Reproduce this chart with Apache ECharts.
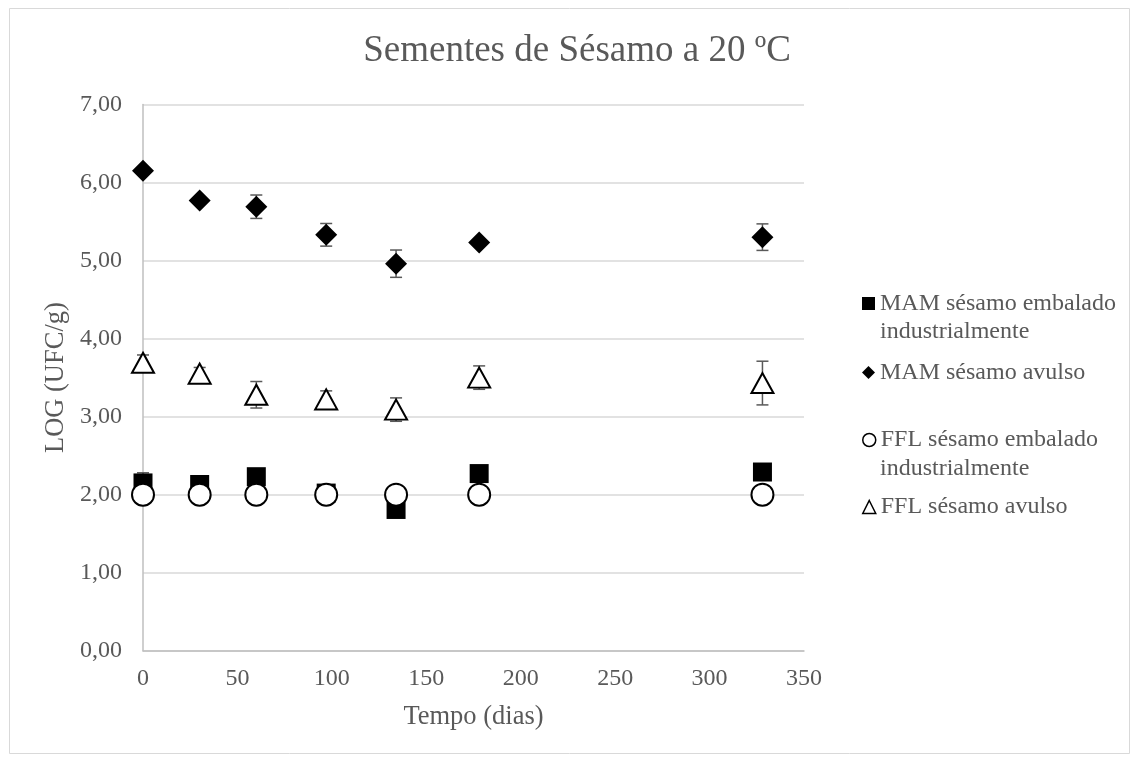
<!DOCTYPE html>
<html><head><meta charset="utf-8">
<script src="https://cdn.jsdelivr.net/npm/echarts@6/dist/echarts.min.js"></script>
<style>html,body{margin:0;padding:0;background:#fff}#c{width:1139px;height:760px}</style>
</head><body><div id="c"></div>
<script>
const days = [0, 30, 60, 97, 134, 178, 328];
const mamEmbalado = [2.15, 2.13, 2.23, 2.02, 1.81, 2.27, 2.29];
const mamEmbaladoErr = [0.13, 0, 0, 0, 0, 0, 0];
const mamAvulso = [6.15, 5.77, 5.69, 5.33, 4.96, 5.23, 5.30];
const mamAvulsoErr = [0, 0, 0.15, 0.145, 0.175, 0, 0.17];
const fflEmbalado = [2.00, 2.00, 2.00, 2.00, 2.00, 2.00, 2.00];
const fflEmbaladoErr = [0, 0, 0, 0, 0, 0, 0];
const fflAvulso = [3.69, 3.55, 3.28, 3.22, 3.09, 3.50, 3.43];
const fflAvulsoErr = [0.10, 0.08, 0.17, 0.11, 0.15, 0.15, 0.28];
const yTickLabels = ['0,00','1,00','2,00','3,00','4,00','5,00','6,00','7,00'];
const seriesNames = ['MAM sésamo embalado industrialmente', 'MAM sésamo avulso', 'FFL sésamo embalado industrialmente', 'FFL sésamo avulso'];

const FONT = '"Liberation Serif", "Times New Roman", serif';
const GRAY = '#595959';

function errSeries(vals, errs) {
  return {
    type: 'custom', silent: true, z: 1,
    data: days.map((d, i) => [d, vals[i] - errs[i], vals[i] + errs[i], errs[i]]).filter(r => r[3] > 0),
    encode: { x: 0, y: [1, 2] },
    renderItem: (params, api) => {
      const x = api.value(0);
      const lo = api.coord([x, api.value(1)]);
      const hi = api.coord([x, api.value(2)]);
      const w = 6;
      const style = { stroke: GRAY, lineWidth: 1.5, fill: null };
      return { type: 'group', children: [
        { type: 'line', shape: { x1: lo[0], y1: lo[1], x2: hi[0], y2: hi[1] }, style },
        { type: 'line', shape: { x1: lo[0] - w, y1: lo[1], x2: lo[0] + w, y2: lo[1] }, style },
        { type: 'line', shape: { x1: hi[0] - w, y1: hi[1], x2: hi[0] + w, y2: hi[1] }, style }
      ]};
    }
  };
}
function pts(vals) { return days.map((d, i) => [d, vals[i]]); }

const legendText = { fontFamily: FONT, fontSize: 24, color: GRAY, lineHeight: 30 };
function legendFor(name, top, icon, itemStyle) {
  return {
    left: 862, top: top, padding: 0, itemWidth: 13, itemHeight: 13, selectedMode: false,
    data: [{ name: name, icon: icon, itemStyle: itemStyle }],
    formatter: n => n.replace(' industrialmente', ''),
    textStyle: legendText
  };
}
function secondLine(y) {
  return { type: 'text', left: 880, top: y - 15, silent: true,
    style: { text: 'industrialmente', font: '24px ' + FONT, fill: GRAY, lineHeight: 30, textVerticalAlign: 'top' } };
}

const option = {
  animation: false,
  backgroundColor: '#fff',
  title: {
    text: 'Sementes de Sésamo a 20 ºC', left: 577, top: 33, textAlign: 'center', padding: 0,
    textStyle: { fontFamily: FONT, fontSize: 37, fontWeight: 'normal', color: GRAY }
  },
  graphic: [
    { type: 'rect', shape: { x: 9.5, y: 8.5, width: 1120, height: 745 }, style: { fill: null, stroke: '#d9d9d9', lineWidth: 1 }, silent: true, z: -10 },
    secondLine(332),
    secondLine(468.5)
  ],
  legend: [
    legendFor(seriesNames[0], 288.5, 'rect', { color: '#000', borderWidth: 0 }),
    legendFor(seriesNames[1], 357.5, 'diamond', { color: '#000', borderWidth: 0 }),
    legendFor(seriesNames[2], 425, 'circle', { color: '#fff', borderColor: '#000', borderWidth: 1.5 }),
    legendFor(seriesNames[3], 492, 'triangle', { color: '#fff', borderColor: '#000', borderWidth: 1.5 })
  ],
  grid: { left: 143, right: 335, top: 104.5, bottom: 109.3 },
  xAxis: {
    type: 'value', min: 0, max: 350, interval: 50,
    name: 'Tempo (dias)', nameLocation: 'middle', nameGap: 53,
    nameTextStyle: { fontFamily: FONT, fontSize: 26.5, color: GRAY },
    axisLine: { show: true, lineStyle: { color: '#bfbfbf', width: 1.5 } },
    axisTick: { show: false },
    splitLine: { show: false },
    axisLabel: { fontFamily: FONT, fontSize: 24, color: GRAY, margin: 16 }
  },
  yAxis: {
    type: 'value', min: 0, max: 7, interval: 1,
    name: 'LOG (UFC/g)', nameLocation: 'middle', nameGap: 73,
    nameTextStyle: { fontFamily: FONT, fontSize: 26.5, color: GRAY },
    axisLine: { show: true, lineStyle: { color: '#bfbfbf', width: 1.5 } },
    axisTick: { show: false },
    splitLine: { show: true, lineStyle: { color: '#d9d9d9', width: 1.5 } },
    axisLabel: { fontFamily: FONT, fontSize: 24, color: GRAY, margin: 21, formatter: v => yTickLabels[Math.round(v)] }
  },
  series: [
    errSeries(mamEmbalado, mamEmbaladoErr),
    errSeries(mamAvulso, mamAvulsoErr),
    errSeries(fflEmbalado, fflEmbaladoErr),
    errSeries(fflAvulso, fflAvulsoErr),
    { type: 'scatter', name: seriesNames[0], z: 3, data: pts(mamEmbalado), symbol: 'rect', symbolSize: 19,
      itemStyle: { color: '#000', opacity: 1 } },
    { type: 'scatter', name: seriesNames[1], z: 3, data: pts(mamAvulso), symbol: 'diamond', symbolSize: 22,
      itemStyle: { color: '#000', opacity: 1 } },
    { type: 'scatter', name: seriesNames[2], z: 3, data: pts(fflEmbalado), symbol: 'circle', symbolSize: 22,
      itemStyle: { color: '#fff', borderColor: '#000', borderWidth: 2, opacity: 1 } },
    { type: 'scatter', name: seriesNames[3], z: 3, data: pts(fflAvulso), symbol: 'triangle', symbolSize: [22, 20],
      itemStyle: { color: '#fff', borderColor: '#000', borderWidth: 2, opacity: 1 } }
  ]
};
const chart = echarts.init(document.getElementById('c'), null, { renderer: 'canvas' });
chart.setOption(option);
</script>
</body></html>
